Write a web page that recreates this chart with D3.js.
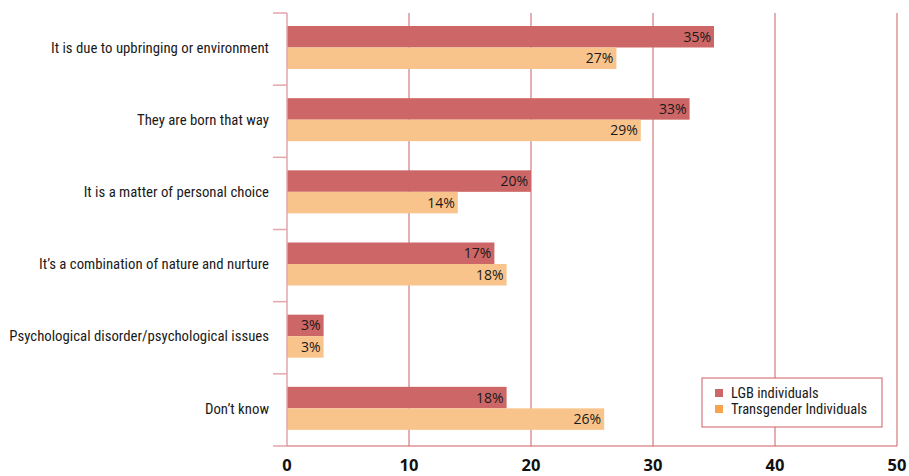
<!DOCTYPE html>
<html>
<head>
<meta charset="utf-8">
<script src="https://cdn.jsdelivr.net/npm/d3@7"></script>
<style>
  html, body { margin: 0; padding: 0; background: #fff; }
  svg { display: block; }
  text { font-family: "Liberation Sans Narrow", "Roboto Condensed", "Open Sans", sans-serif; }
  .num { font-family: "Open Sans", "Noto Sans", sans-serif; }
</style>
</head>
<body>
<svg id="chart" width="909" height="476"></svg>
<script>
// Beliefs about why people are LGB / transgender (% of respondents)
const categories = [
  "It is due to upbringing or environment",
  "They are born that way",
  "It is a matter of personal choice",
  "It\u2019s a combination of nature and nurture",
  "Psychological disorder/psychological issues",
  "Don\u2019t know"
];
const lgbValues = [35, 33, 20, 17, 3, 18];
const transValues = [27, 29, 14, 18, 3, 26];
const seriesNames = ["LGB individuals", "Transgender Individuals"];
const xTicks = [0, 10, 20, 30, 40, 50];

const barColors = ["#cd6666", "#f9c48c"];
const swatchColors = ["#cd6666", "#f6a24e"];
const gridColor = "#cd5e63";

const svg = d3.select("#chart");
const margin = { top: 13, left: 287 };
const plotH = 446 - margin.top;

const x = d3.scaleLinear().domain([0, 50]).range([0, 610]);
const y = d3.scaleBand().domain(categories).range([0, plotH]);

const g = svg.append("g").attr("transform", `translate(${margin.left},${margin.top})`);

// vertical gridlines
g.selectAll(".grid").data(xTicks.filter(d => d > 0)).join("line")
  .attr("x1", d => x(d)).attr("x2", d => x(d))
  .attr("y1", 0).attr("y2", plotH)
  .attr("stroke", gridColor).attr("stroke-width", 1);

const rows = categories.map((c, i) => ({ c, lgb: lgbValues[i], trans: transValues[i] }));
const barH = 21.5;
const groupOffset = 13;

const row = g.selectAll(".row").data(rows).join("g")
  .attr("transform", d => `translate(0,${y(d.c)})`);

row.append("rect")
  .attr("x", 0).attr("y", groupOffset)
  .attr("width", d => x(d.lgb)).attr("height", barH)
  .attr("fill", barColors[0]);
row.append("rect")
  .attr("x", 0).attr("y", groupOffset + barH)
  .attr("width", d => x(d.trans)).attr("height", barH)
  .attr("fill", barColors[1]);

row.append("text").attr("class", "num")
  .attr("x", d => x(d.lgb) - 3).attr("y", groupOffset + barH / 2)
  .attr("dy", "0.36em").attr("text-anchor", "end")
  .attr("font-size", 14).attr("fill", "#1a1a1a")
  .text(d => d.lgb + "%");
row.append("text").attr("class", "num")
  .attr("x", d => x(d.trans) - 3).attr("y", groupOffset + barH * 1.5)
  .attr("dy", "0.36em").attr("text-anchor", "end")
  .attr("font-size", 14).attr("fill", "#1a1a1a")
  .text(d => d.trans + "%");

// category labels
row.append("text")
  .attr("x", -18).attr("y", groupOffset + barH)
  .attr("dy", "0.35em").attr("text-anchor", "end")
  .attr("font-size", 14.8).attr("fill", "#1a1a1a")
  .text(d => d.c);

// left axis with category boundary ticks
g.append("line").attr("x1", 0).attr("x2", 0).attr("y1", 0).attr("y2", plotH)
  .attr("stroke", "#e3a6ad").attr("stroke-width", 1.5);
const bounds = categories.map(c => y(c)).concat([plotH]);
g.selectAll(".ytick").data(bounds).join("line")
  .attr("x1", -14).attr("x2", 0)
  .attr("y1", d => d).attr("y2", d => d)
  .attr("stroke", "#e3a6ad").attr("stroke-width", 1.5);

// bottom axis
g.append("line").attr("x1", 0).attr("x2", x(50)).attr("y1", plotH).attr("y2", plotH)
  .attr("stroke", gridColor).attr("stroke-width", 1);
g.selectAll(".xlabel").data(xTicks).join("text").attr("class", "num")
  .attr("x", d => x(d)).attr("y", plotH + 25)
  .attr("text-anchor", "middle")
  .attr("font-size", 16.5).attr("font-weight", "bold").attr("fill", "#111")
  .text(d => d);

// legend
const leg = svg.append("g").attr("transform", "translate(702,378)");
leg.append("rect").attr("width", 180).attr("height", 49)
  .attr("fill", "#fff").attr("stroke", gridColor).attr("stroke-width", 1);
seriesNames.forEach((name, i) => {
  leg.append("rect").attr("x", 13).attr("y", 11 + i * 16).attr("width", 8).attr("height", 8)
    .attr("fill", swatchColors[i]);
  leg.append("text").attr("x", 29).attr("y", 15 + i * 16).attr("dy", "0.35em")
    .attr("font-size", 14.5).attr("fill", "#1a1a1a").text(name);
});
</script>
</body>
</html>
